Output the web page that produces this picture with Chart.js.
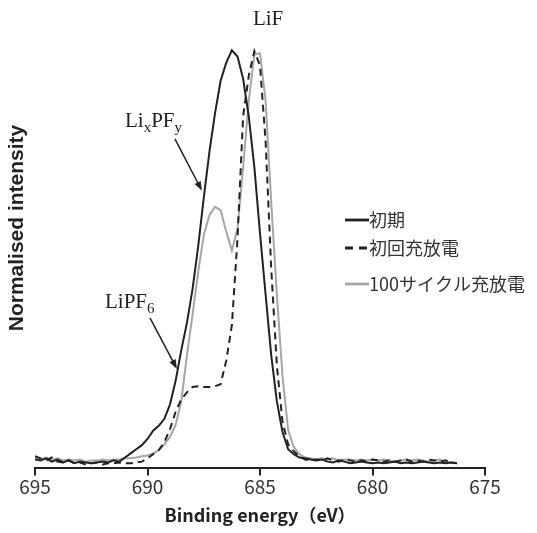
<!DOCTYPE html>
<html>
<head>
<meta charset="utf-8">
<script src="https://cdn.jsdelivr.net/npm/chart.js@4.4.0/dist/chart.umd.min.js"></script>
<style>
  html, body { margin: 0; background: #fff; }
  #wrap { width: 537px; height: 533px; }
</style>
</head>
<body>
<div id="wrap"><canvas id="xpsChart"></canvas></div>
<script>
// Binding energy grid (eV), shared by all three spectra
const energy = [
  695.00, 694.75, 694.50, 694.25, 694.00, 693.75, 693.50, 693.25, 693.00, 692.75,
  692.50, 692.25, 692.00, 691.75, 691.50, 691.25, 691.00, 690.75, 690.50, 690.25,
  690.00, 689.75, 689.50, 689.25, 689.00, 688.75, 688.50, 688.25, 688.00, 687.75,
  687.50, 687.25, 687.00, 686.75, 686.50, 686.25, 686.00, 685.75, 685.50, 685.25,
  685.00, 684.75, 684.50, 684.25, 684.00, 683.75, 683.50, 683.25, 683.00, 682.75,
  682.50, 682.25, 682.00, 681.75, 681.50, 681.25, 681.00, 680.75, 680.50, 680.25,
  680.00, 679.75, 679.50, 679.25, 679.00, 678.75, 678.50, 678.25, 678.00, 677.75,
  677.50, 677.25, 677.00, 676.75, 676.50, 676.25
];

// 初期
const initial = [
  0.007, 0.005, 0.010, 0.002, 0.007, 0.000, 0.005, -0.002, 0.002, 0.000,
  -0.002, 0.000, 0.002, 0.000, 0.005, 0.002, 0.012, 0.022, 0.032, 0.042,
  0.057, 0.077, 0.089, 0.106, 0.141, 0.198, 0.272, 0.338, 0.420, 0.523,
  0.642, 0.753, 0.847, 0.926, 0.970, 1.000, 0.985, 0.931, 0.840, 0.716,
  0.556, 0.407, 0.259, 0.148, 0.074, 0.032, 0.020, 0.012, 0.010, 0.007,
  0.005, 0.007, 0.002, 0.000, 0.005, 0.002, -0.002, 0.000, 0.002, 0.000,
  -0.002, 0.000, -0.002, 0.000, 0.002, -0.002, 0.000, -0.002, 0.000, 0.002,
  0.000, -0.002, 0.000, -0.002, 0.000, -0.002
];

// 初回充放電
const firstCycle = [
  0.015, 0.010, 0.005, 0.012, 0.002, 0.000, 0.005, -0.002, 0.000, -0.005,
  -0.002, 0.000, -0.005, -0.002, -0.002, 0.000, -0.002, -0.002, 0.000, 0.002,
  0.010, 0.020, 0.030, 0.049, 0.081, 0.123, 0.153, 0.170, 0.183, 0.185,
  0.183, 0.183, 0.185, 0.190, 0.247, 0.333, 0.543, 0.840, 0.938, 0.998,
  0.963, 0.778, 0.469, 0.235, 0.099, 0.044, 0.027, 0.015, 0.007, 0.005,
  0.007, 0.005, 0.010, 0.005, 0.002, 0.007, 0.005, 0.002, 0.005, 0.002,
  0.007, 0.005, 0.002, 0.005, 0.002, 0.005, 0.007, 0.002, 0.005, 0.002,
  0.007, 0.005, 0.002, 0.005, 0.000, -0.002
];

// 100サイクル充放電
const cycle100 = [
  0.010, 0.007, 0.012, 0.007, 0.010, 0.005, 0.007, 0.005, 0.007, 0.002,
  0.005, 0.005, 0.007, 0.005, 0.007, 0.007, 0.010, 0.010, 0.012, 0.015,
  0.017, 0.022, 0.030, 0.044, 0.062, 0.091, 0.148, 0.259, 0.358, 0.462,
  0.551, 0.600, 0.620, 0.612, 0.560, 0.514, 0.568, 0.716, 0.877, 0.990,
  0.993, 0.877, 0.630, 0.407, 0.210, 0.079, 0.037, 0.020, 0.012, 0.010,
  0.007, 0.010, 0.007, 0.010, 0.005, 0.007, 0.007, 0.005, 0.007, 0.005,
  0.007, 0.005, 0.007, 0.005, 0.002, 0.005, 0.007, 0.005, 0.007, 0.005,
  0.002, 0.005, 0.007, 0.002, 0.000, -0.002
];

const seriesLabels = ['初期', '初回充放電', '100サイクル充放電'];
const xTicks = [695, 690, 685, 680, 675];
const yTitle = 'Normalised intensity';

function pairs(values) {
  return values.map((v, i) => ({ x: energy[i], y: v }));
}

// Peak labels: text pieces, anchor (eV, intensity), optional arrow
const peakNotes = [
  { parts: [['LiF', false]], at: [684.64, 1.062], center: true },
  { parts: [['Li', false], ['x', true], ['PF', false], ['y', true]], at: [691.0, 0.815],
    arrow: [[688.78, 0.785], [687.58, 0.659]] },
  { parts: [['LiPF', false], ['6', true]], at: [691.89, 0.375],
    arrow: [[689.89, 0.351], [688.69, 0.227]] }
];

const notesAndLegend = {
  id: 'notesAndLegend',
  afterDatasetsDraw(chart) {
    const ctx = chart.ctx;
    const xs = chart.scales.x, ys = chart.scales.y;
    ctx.save();

    // y axis title (off-centre in the original, so drawn by hand)
    ctx.save();
    ctx.translate(17, 228);
    ctx.rotate(-Math.PI / 2);
    ctx.font = 'bold 21px "Liberation Sans", Arial, sans-serif';
    ctx.fillStyle = '#222';
    ctx.textAlign = 'center';
    ctx.textBaseline = 'middle';
    ctx.fillText(yTitle, 0, 0);
    ctx.restore();

    // peak labels
    ctx.fillStyle = '#222';
    ctx.strokeStyle = '#222';
    ctx.textBaseline = 'alphabetic';
    peakNotes.forEach(n => {
      const big = '21px "Liberation Serif", "DejaVu Serif", serif';
      const small = '15px "Liberation Serif", "DejaVu Serif", serif';
      let total = 0;
      n.parts.forEach(p => { ctx.font = p[1] ? small : big; total += ctx.measureText(p[0]).width; });
      let x = xs.getPixelForValue(n.at[0]);
      const y = ys.getPixelForValue(n.at[1]);
      if (n.center) x -= total / 2;
      ctx.textAlign = 'left';
      n.parts.forEach(p => {
        ctx.font = p[1] ? small : big;
        ctx.fillText(p[0], x, p[1] ? y + 5 : y);
        x += ctx.measureText(p[0]).width;
      });
      if (n.arrow) {
        const x0 = xs.getPixelForValue(n.arrow[0][0]), y0 = ys.getPixelForValue(n.arrow[0][1]);
        const x1 = xs.getPixelForValue(n.arrow[1][0]), y1 = ys.getPixelForValue(n.arrow[1][1]);
        const ang = Math.atan2(y1 - y0, x1 - x0);
        const head = 10;
        ctx.lineWidth = 1.5;
        ctx.beginPath();
        ctx.moveTo(x0, y0);
        ctx.lineTo(x1 - Math.cos(ang) * head * 0.8, y1 - Math.sin(ang) * head * 0.8);
        ctx.stroke();
        ctx.beginPath();
        ctx.moveTo(x1, y1);
        ctx.lineTo(x1 - head * Math.cos(ang - 0.35), y1 - head * Math.sin(ang - 0.35));
        ctx.lineTo(x1 - head * Math.cos(ang + 0.35), y1 - head * Math.sin(ang + 0.35));
        ctx.closePath();
        ctx.fill();
      }
    });

    // legend, built from the datasets
    const rows = [220, 248, 284];
    ctx.font = '18px "Noto Sans CJK JP", sans-serif';
    ctx.textBaseline = 'middle';
    chart.data.datasets.forEach((ds, i) => {
      const y = rows[i];
      ctx.strokeStyle = ds.borderColor;
      ctx.lineWidth = ds.borderWidth + 0.8;
      ctx.setLineDash(ds.borderDash ? [8, 6] : []);
      ctx.beginPath();
      ctx.moveTo(345, y);
      ctx.lineTo(369, y);
      ctx.stroke();
      ctx.setLineDash([]);
      ctx.fillStyle = '#333';
      ctx.fillText(ds.label, 369, y);
    });
    ctx.restore();
  }
};

new Chart(document.getElementById('xpsChart'), {
  type: 'line',
  data: {
    datasets: [
      { label: seriesLabels[0], data: pairs(initial), borderColor: '#222222', borderWidth: 2 },
      { label: seriesLabels[1], data: pairs(firstCycle), borderColor: '#222222', borderWidth: 2, borderDash: [7, 5] },
      { label: seriesLabels[2], data: pairs(cycle100), borderColor: '#a6a6a6', borderWidth: 2 }
    ]
  },
  options: {
    responsive: true,
    maintainAspectRatio: false,
    animation: false,
    layout: { padding: { top: 40, right: 52, left: 35, bottom: 7 } },
    elements: { point: { radius: 0 }, line: { tension: 0, fill: false } },
    plugins: { legend: { display: false }, tooltip: { enabled: false } },
    scales: {
      x: {
        type: 'linear',
        reverse: true,
        min: 675,
        max: 695,
        afterBuildTicks: axis => { axis.ticks = xTicks.map(v => ({ value: v })); },
        grid: { drawOnChartArea: false, drawTicks: true, tickLength: 8, color: '#222', lineWidth: 2 },
        border: { display: true, color: '#222', width: 2 },
        ticks: { color: '#333', padding: 0, font: { family: '"Noto Sans CJK JP", sans-serif', size: 19 } },
        title: {
          display: true,
          text: 'Binding energy（eV）',
          color: '#222',
          padding: { top: 6, bottom: 0 },
          font: { family: '"Noto Sans CJK JP", sans-serif', size: 18, weight: 'bold' }
        }
      },
      y: {
        display: false,
        min: -0.0125,
        max: 1.025
      }
    }
  },
  plugins: [notesAndLegend]
});
</script>
</body>
</html>
